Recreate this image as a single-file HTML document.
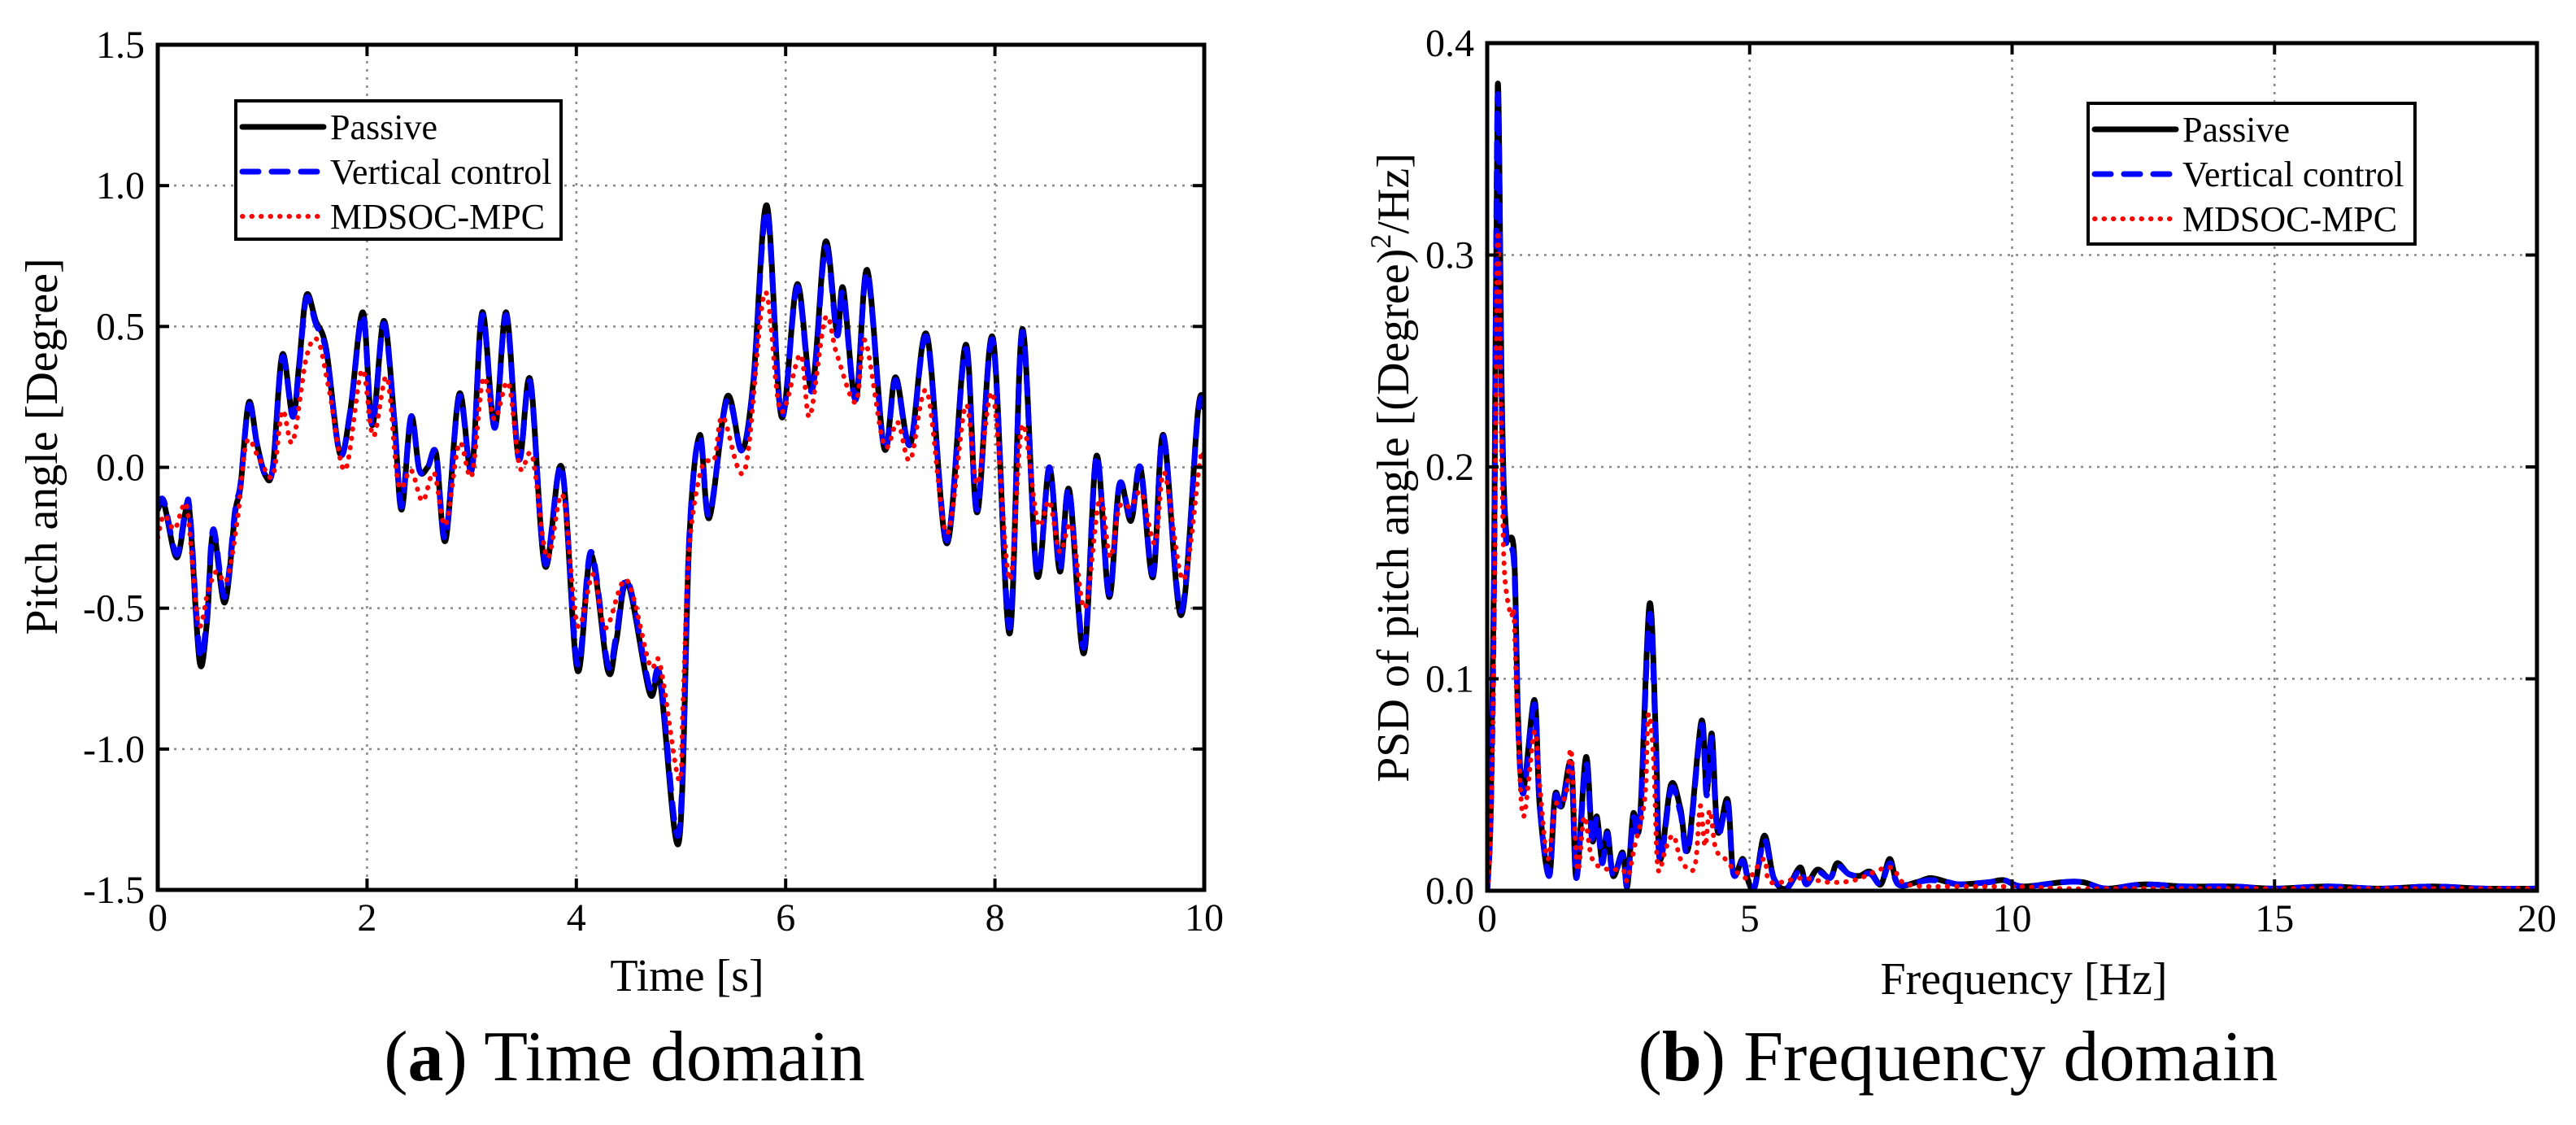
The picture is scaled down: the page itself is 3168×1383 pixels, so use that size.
<!DOCTYPE html>
<html><head><meta charset="utf-8">
<style>
html,body{margin:0;padding:0;background:#fff;}
svg{display:block;font-family:"Liberation Serif","Times New Roman",serif;}
</style></head>
<body>
<svg id="fig" width="3168" height="1383" viewBox="0 0 3168 1383" xmlns="http://www.w3.org/2000/svg">
<rect width="3168" height="1383" fill="#fff"/>
<g id="chartA"></g>
<g id="chartB"></g>
<text x="768" y="1328" font-size="88" text-anchor="middle">(<tspan font-weight="bold">a</tspan>) Time domain</text>
<text x="2408" y="1328" font-size="88" text-anchor="middle">(<tspan font-weight="bold">b</tspan>) Frequency domain</text>
</svg>
<script>
// ---------- Data: time domain ----------
const tPassive = [0,0.06,0.18,0.27,0.31,0.40,0.47,0.53,0.64,0.74,0.79,0.87,0.95,1.03,1.10,1.19,1.29,1.35,1.42,1.51,1.61,1.74,1.84,1.96,2.05,2.16,2.26,2.33,2.42,2.50,2.58,2.66,2.75,2.88,3.00,3.10,3.22,3.33,3.45,3.56,3.70,3.86,4.01,4.14,4.30,4.38,4.49,4.70,4.80,4.98,5.08,5.18,5.27,5.44,5.58,5.69,5.82,5.96,6.11,6.25,6.38,6.49,6.55,6.67,6.78,6.94,7.05,7.19,7.35,7.54,7.72,7.83,7.98,8.14,8.26,8.40,8.52,8.62,8.71,8.85,8.97,9.09,9.19,9.30,9.39,9.51,9.61,9.78,9.94,10.0];
const vPassive = [-0.15,-0.13,-0.32,-0.15,-0.18,-0.69,-0.55,-0.23,-0.48,-0.16,-0.07,0.23,0.08,-0.03,0.0,0.40,0.18,0.36,0.61,0.52,0.42,0.05,0.20,0.55,0.15,0.52,0.17,-0.15,0.18,-0.01,0.0,0.05,-0.26,0.26,-0.01,0.55,0.14,0.55,0.03,0.31,-0.35,0.0,-0.72,-0.31,-0.72,-0.62,-0.41,-0.80,-0.76,-1.33,-0.25,0.115,-0.18,0.25,0.06,0.30,0.93,0.18,0.65,0.28,0.80,0.48,0.635,0.24,0.70,0.07,0.32,0.08,0.47,-0.27,0.435,-0.16,0.46,-0.59,0.49,-0.38,0.0,-0.37,-0.08,-0.66,0.04,-0.46,-0.06,-0.19,0.0,-0.39,0.115,-0.525,0.20,0.21];
const vVertical = [-0.14,-0.12,-0.31,-0.14,-0.17,-0.66,-0.53,-0.22,-0.46,-0.15,-0.06,0.22,0.08,-0.03,0.0,0.39,0.18,0.35,0.60,0.51,0.41,0.05,0.20,0.54,0.15,0.51,0.17,-0.14,0.18,-0.01,0.0,0.05,-0.25,0.25,-0.01,0.54,0.14,0.54,0.03,0.30,-0.34,0.0,-0.70,-0.30,-0.70,-0.60,-0.40,-0.78,-0.74,-1.30,-0.24,0.11,-0.17,0.24,0.06,0.29,0.91,0.18,0.64,0.27,0.78,0.47,0.62,0.24,0.69,0.07,0.31,0.08,0.46,-0.26,0.42,-0.15,0.45,-0.57,0.48,-0.37,0.0,-0.36,-0.08,-0.64,0.04,-0.45,-0.06,-0.18,0.0,-0.38,0.11,-0.51,0.19,0.20];
const tMpc = [0,0.06,0.16,0.24,0.29,0.39,0.48,0.56,0.66,0.76,0.85,0.97,1.10,1.19,1.29,1.42,1.53,1.64,1.79,1.95,2.06,2.19,2.30,2.42,2.53,2.64,2.75,2.88,3.00,3.11,3.22,3.35,3.46,3.58,3.72,3.87,4.01,4.16,4.28,4.48,4.70,4.80,4.98,5.02,5.08,5.20,5.32,5.40,5.61,5.80,5.95,6.14,6.23,6.38,6.49,6.67,6.76,6.94,7.07,7.19,7.35,7.54,7.72,7.83,7.98,8.14,8.26,8.41,8.52,8.62,8.73,8.86,9.00,9.10,9.19,9.30,9.40,9.53,9.62,9.80,9.96,10.0];
const vMpc = [-0.25,-0.17,-0.22,-0.14,-0.17,-0.555,-0.44,-0.37,-0.40,-0.19,0.09,0.03,-0.03,0.20,0.09,0.39,0.45,0.27,-0.01,0.345,0.11,0.32,-0.06,-0.01,-0.12,-0.02,-0.205,0.085,-0.03,0.315,0.17,0.30,0.0,0.04,-0.32,-0.10,-0.56,-0.38,-0.57,-0.40,-0.70,-0.70,-1.11,-0.83,-0.28,0.0,0.03,0.18,-0.01,0.62,0.20,0.40,0.18,0.53,0.40,0.23,0.45,0.08,0.16,0.025,0.27,-0.235,0.22,-0.06,0.26,-0.40,0.15,-0.20,-0.12,-0.30,-0.205,-0.50,-0.11,-0.32,-0.14,-0.14,-0.09,-0.27,-0.02,-0.40,0.025,0.03];
const xTicksA = [0,2,4,6,8,10];
const xTickLabelsA = ["0","2","4","6","8","10"];
const yTicksA = [-1.5,-1.0,-0.5,0.0,0.5,1.0,1.5];
const yTickLabelsA = ["-1.5","-1.0","-0.5","0.0","0.5","1.0","1.5"];

// ---------- Data: frequency domain ----------
const fPassive = [0,0.07,0.13,0.20,0.28,0.36,0.51,0.59,0.69,0.90,1.00,1.18,1.29,1.42,1.60,1.70,1.88,2.00,2.09,2.19,2.29,2.40,2.58,2.67,2.78,2.91,3.09,3.21,3.29,3.50,3.68,3.83,4.08,4.18,4.28,4.39,4.58,4.69,4.87,4.98,5.10,5.28,5.46,5.70,5.96,6.08,6.29,6.53,6.67,6.88,7.09,7.30,7.50,7.67,7.83,8.18,8.45,8.78,9.00,9.55,9.84,10.2,10.94,11.36,11.8,12.5,13.3,14.2,15.0,16.0,17.0,18.0,19.0,20.0];
const pPassive = [0,0.04,0.15,0.38,0.23,0.17,0.16,0.08,0.048,0.09,0.04,0.007,0.045,0.04,0.06,0.006,0.063,0.024,0.035,0.014,0.028,0.007,0.018,0.002,0.036,0.033,0.135,0.075,0.015,0.05,0.039,0.02,0.08,0.047,0.074,0.028,0.043,0.008,0.015,0.004,0.002,0.026,0.006,0.001,0.011,0.003,0.01,0.006,0.013,0.008,0.007,0.009,0.003,0.015,0.003,0.004,0.006,0.004,0.003,0.004,0.005,0.002,0.004,0.004,0.001,0.003,0.002,0.002,0.001,0.002,0.001,0.002,0.001,0.001];
const pVertical = [0,0.038,0.145,0.375,0.225,0.165,0.155,0.078,0.046,0.088,0.04,0.007,0.044,0.039,0.058,0.006,0.06,0.023,0.034,0.013,0.027,0.007,0.017,0.002,0.034,0.032,0.13,0.072,0.014,0.048,0.037,0.019,0.078,0.045,0.072,0.027,0.041,0.008,0.014,0.004,0.002,0.024,0.006,0.001,0.01,0.003,0.009,0.006,0.012,0.008,0.007,0.008,0.003,0.013,0.003,0.004,0.005,0.004,0.003,0.004,0.005,0.002,0.004,0.004,0.001,0.003,0.002,0.002,0.001,0.002,0.001,0.002,0.001,0.001];
const fMpc = [0,0.07,0.13,0.20,0.28,0.33,0.45,0.51,0.58,0.69,0.90,1.00,1.15,1.30,1.50,1.60,1.72,1.85,2.00,2.30,2.58,2.67,2.80,3.00,3.07,3.17,3.25,3.40,3.55,3.70,3.95,4.06,4.15,4.24,4.35,4.50,4.70,4.87,5.00,5.28,5.40,6.0,6.5,7.0,7.67,8.0,9.0,10.0,11.0,12.0,14.0,16.0,18.0,20.0];
const pMpc = [0,0.03,0.12,0.31,0.20,0.15,0.13,0.13,0.08,0.035,0.075,0.05,0.015,0.04,0.045,0.066,0.01,0.035,0.015,0.01,0.01,0.005,0.02,0.043,0.083,0.062,0.011,0.02,0.026,0.014,0.011,0.04,0.021,0.038,0.02,0.016,0.01,0.007,0.006,0.015,0.004,0.006,0.004,0.005,0.011,0.003,0.002,0.002,0.001,0.001,0.001,0.001,0.001,0.001];
const xTicksB = [0,5,10,15,20];
const xTickLabelsB = ["0","5","10","15","20"];
const yTicksB = [0,0.1,0.2,0.3,0.4];
const yTickLabelsB = ["0.0","0.1","0.2","0.3","0.4"];

const NS = "http://www.w3.org/2000/svg";
function mk(parent, tag, attrs){
  const e = document.createElementNS(NS, tag);
  for (const k in attrs) e.setAttribute(k, attrs[k]);
  parent.appendChild(e);
  return e;
}
function smoothPath(pts){
  let d = "M" + pts[0][0].toFixed(1) + "," + pts[0][1].toFixed(1);
  for (let i = 0; i < pts.length - 1; i++){
    const p0 = pts[i-1] || pts[i], p1 = pts[i], p2 = pts[i+1], p3 = pts[i+2] || p2;
    const c1x = p1[0] + (p2[0]-p0[0])/6, c1y = p1[1] + (p2[1]-p0[1])/6;
    const c2x = p2[0] - (p3[0]-p1[0])/6, c2y = p2[1] - (p3[1]-p1[1])/6;
    d += " C" + c1x.toFixed(1) + "," + c1y.toFixed(1) + " " + c2x.toFixed(1) + "," + c2y.toFixed(1) + " " + p2[0].toFixed(1) + "," + p2[1].toFixed(1);
  }
  return d;
}

function drawChart(g, cfg){
  const {x0,x1,y0,y1,xmin,xmax,ymin,ymax} = cfg;
  const X = v => x0 + (v - xmin) / (xmax - xmin) * (x1 - x0);
  const Y = v => y1 - (v - ymin) / (ymax - ymin) * (y1 - y0);
  // grid
  const grid = mk(g, "g", {stroke:"#888", "stroke-width":"2.5", "stroke-dasharray":"3 7"});
  
  
  cfg.xTicks.forEach(v => { if (v > xmin && v < xmax){ const l = mk(grid, "line", {x1:X(v), x2:X(v), y1:y0, y2:y1});
    
     }});
  cfg.yTicks.forEach(v => { if (v > ymin && v < ymax){ const l = mk(grid, "line", {x1:x0, x2:x1, y1:Y(v), y2:Y(v)});
    
     }});
  // series
  const clipId = cfg.id + "clip";
  const cp = mk(mk(g, "defs", {}), "clipPath", {id: clipId});
  mk(cp, "rect", {x:x0, y:y0-30, width:x1-x0, height:y1-y0+30});
  cfg.series.forEach(s => {
    const pts = s.x.map((xv, i) => [X(xv), Y(s.y[i])]);
    const p = mk(g, "path", {d: smoothPath(pts), fill:"none", stroke:s.color, "stroke-width":s.w, "stroke-linecap":"round", "stroke-linejoin":"round", "clip-path":"url(#"+clipId+")"});
    if (s.dash) p.setAttribute("stroke-dasharray", s.dash);
    
    
  });
  // frame
  const fr = mk(g, "rect", {x:x0, y:y0, width:x1-x0, height:y1-y0, fill:"none", stroke:"#000", "stroke-width":"5"});
  
  
  // ticks & labels
  cfg.xTicks.forEach((v, i) => {
    const tk = mk(g, "line", {x1:X(v), x2:X(v), y1:y1, y2:y1-14, stroke:"#000", "stroke-width":"4"});
    
    
    const tk2 = mk(g, "line", {x1:X(v), x2:X(v), y1:y0, y2:y0+14, stroke:"#000", "stroke-width":"4"});
    
    
    const t = mk(g, "text", {x:X(v), y:y1+50, "font-size":"48", "text-anchor":"middle"});
    t.textContent = cfg.xTickLabels[i];
    
    
  });
  cfg.yTicks.forEach((v, i) => {
    const tk = mk(g, "line", {x1:x0, x2:x0+14, y1:Y(v), y2:Y(v), stroke:"#000", "stroke-width":"4"});
    
    
    const tk2 = mk(g, "line", {x1:x1, x2:x1-14, y1:Y(v), y2:Y(v), stroke:"#000", "stroke-width":"4"});
    
    
    const t = mk(g, "text", {x:x0-16, y:Y(v)+16, "font-size":"48", "text-anchor":"end"});
    t.textContent = cfg.yTickLabels[i];
    
    
  });
  // legend
  const L = cfg.legend;
  const lg = mk(g, "g", {});
  
  
  mk(lg, "rect", {x:L.x, y:L.y, width:L.w, height:L.h, fill:"#fff", stroke:"#000", "stroke-width":"4"});
  cfg.series.forEach((s, i) => {
    const yy = L.y + 32 + i * 55;
    const ln = mk(lg, "line", {x1:L.x+8, x2:L.x+108, y1:yy, y2:yy, stroke:s.color, "stroke-width":s.w, "stroke-linecap":"round"});
    if (s.dash) ln.setAttribute("stroke-dasharray", s.dash);
    
    
    const tx = mk(lg, "text", {x:L.x+116, y:yy+15, "font-size":"44"});
    tx.textContent = s.label;
    
    
  });
}

drawChart(document.getElementById("chartA"), {
  id:"a", x0:194, x1:1481, y0:55, y1:1094, xmin:0, xmax:10, ymin:-1.5, ymax:1.5,
  xTicks:xTicksA, xTickLabels:xTickLabelsA, yTicks:yTicksA, yTickLabels:yTickLabelsA,
  legend:{x:290, y:124, w:400, h:170},
  series:[
    {name:"passive-line", label:"Passive", x:tPassive, y:vPassive, color:"#000", w:7},
    {name:"vertical-control-line", label:"Vertical control", x:tPassive, y:vVertical, color:"#0000ff", w:7, dash:"20 16"},
    {name:"mdsoc-mpc-line", label:"MDSOC-MPC", x:tMpc, y:vMpc, color:"#ff0000", w:6, dash:"0.5 11"}
  ]
});
drawChart(document.getElementById("chartB"), {
  id:"b", x0:1829, x1:3120, y0:53, y1:1095, xmin:0, xmax:20, ymin:0, ymax:0.4,
  xTicks:xTicksB, xTickLabels:xTickLabelsB, yTicks:yTicksB, yTickLabels:yTickLabelsB,
  legend:{x:2568, y:127, w:402, h:173},
  series:[
    {name:"passive-psd-line", label:"Passive", x:fPassive, y:pPassive, color:"#000", w:7},
    {name:"vertical-control-psd-line", label:"Vertical control", x:fPassive, y:pVertical, color:"#0000ff", w:7, dash:"20 16"},
    {name:"mdsoc-mpc-psd-line", label:"MDSOC-MPC", x:fMpc, y:pMpc, color:"#ff0000", w:6, dash:"0.5 11"}
  ]
});

// axis titles
const svg = document.getElementById("fig");
const xa = mk(svg, "text", {x:845, y:1218, "font-size":"56", "text-anchor":"middle"});
xa.textContent = "Time [s]";


const xb = mk(svg, "text", {x:2489, y:1222, "font-size":"56", "text-anchor":"middle"});
xb.textContent = "Frequency [Hz]";


const ya = mk(svg, "text", {x:0, y:0, "font-size":"56", "text-anchor":"middle", transform:"translate(70,549) rotate(-90)"});
ya.textContent = "Pitch angle [Degree]";


const yb = mk(svg, "text", {x:0, y:0, "font-size":"56", "text-anchor":"middle", transform:"translate(1732,575) rotate(-90)"});


const t1 = mk(yb, "tspan", {}); t1.textContent = "PSD of pitch angle [(Degree)";
const t2 = mk(yb, "tspan", {"font-size":"36", dy:"-22"}); t2.textContent = "2";
const t3 = mk(yb, "tspan", {dy:"22"}); t3.textContent = "/Hz]";
</script>
</body></html>
